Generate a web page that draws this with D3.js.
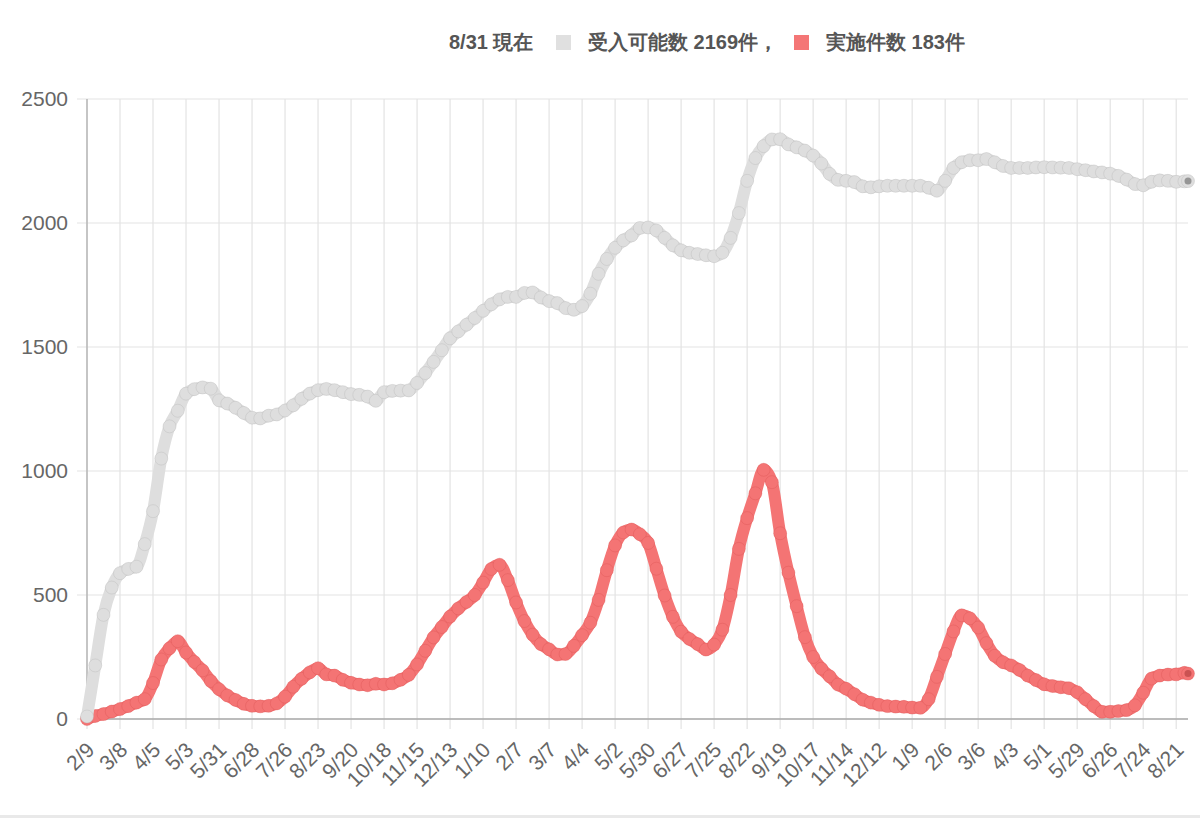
<!DOCTYPE html>
<html>
    <head>
        <meta charset="utf-8">
        <script src="https://d3js.org/d3.v7.min.js"></script>
        <style>
            body { margin: 0; background: #fff; }
            text { font-family: "Liberation Sans", Arial, sans-serif; }
        </style>
    </head>
    <body>
        <svg width="1200" height="818" id="chart"></svg>
        <script>
            // tick labels, every 4 weeks from 2/9/2020
            const tickLabels = ["2/9","3/8","4/5","5/3","5/31","6/28","7/26","8/23","9/20","10/18","11/15","12/13",
                "1/10","2/7","3/7","4/4","5/2","5/30","6/27","7/25","8/22","9/19","10/17","11/14","12/12",
                "1/9","2/6","3/6","4/3","5/1","5/29","6/26","7/24","8/21"];
            const yTicks = [0, 500, 1000, 1500, 2000, 2500];

            // weekly readings (day 0 = 2020/2/9), last one is 8/31
            const capacity = [10, 216, 420, 530, 588, 605, 614, 705, 838, 1050,
                1180, 1243, 1312, 1330, 1337, 1332, 1285, 1272, 1255, 1234,
                1215, 1212, 1223, 1228, 1244, 1265, 1291, 1312, 1326, 1331,
                1326, 1318, 1310, 1307, 1300, 1283, 1318, 1323, 1324, 1325,
                1355, 1395, 1440, 1487, 1535, 1563, 1590, 1617, 1646, 1672,
                1692, 1702, 1702, 1718, 1720, 1700, 1685, 1677, 1657, 1650,
                1665, 1715, 1795, 1855, 1900, 1930, 1950, 1980, 1982, 1970,
                1940, 1910, 1890, 1880, 1875, 1870, 1866, 1880, 1940, 2040,
                2170, 2262, 2310, 2337, 2338, 2317, 2305, 2292, 2272, 2240,
                2198, 2174, 2170, 2165, 2148, 2144, 2148, 2150, 2150, 2150,
                2150, 2150, 2142, 2130, 2170, 2222, 2245, 2253, 2253, 2258,
                2245, 2230, 2222, 2222, 2222, 2224, 2225, 2224, 2223, 2222,
                2217, 2213, 2208, 2204, 2199, 2190, 2175, 2157, 2152, 2166,
                2172, 2170, 2166, 2168,
                2169];
            const performed = [0, 12, 20, 30, 40, 52, 66, 80, 145, 240,
                285, 314, 268, 230, 196, 153, 120, 95, 77, 61,
                53, 51, 53, 63, 90, 130, 162, 188, 205, 180,
                175, 158, 146, 139, 136, 142, 139, 144, 158, 178,
                220, 275, 329, 371, 413, 446, 472, 500, 550, 605,
                622, 560, 470, 395, 340, 302, 281, 260, 262, 295,
                338, 388, 480, 600, 700, 752, 764, 745, 710, 606,
                498, 412, 352, 323, 302, 280, 300, 360, 500, 686,
                810, 910, 1005, 955, 749, 590, 455, 330, 250, 203,
                172, 139, 122, 100, 78, 66, 57, 52, 50, 49,
                46, 45, 80, 170, 262, 353, 418, 406, 369, 306,
                255, 229, 216, 198, 175, 157, 140, 133, 128, 124,
                108, 80, 52, 29, 29, 32, 36, 55, 106, 163,
                175, 179, 180, 186,
                183];

            const legendTitle = "8/31 現在";
            const seriesNames = ["受入可能数 2169件，", "実施件数 183件"];

            let svg = d3.select("#chart");
            const plotLeft = 87, plotRight = 1188, plotTop = 99, plotBottom = 719;

            let days = d3.range(0, 932, 7).concat([934]);
            let tickDays = d3.range(0, tickLabels.length * 28, 28);

            let xScale = d3.scaleLinear().domain([0, 934]).range([plotLeft, plotRight]);
            let yScale = d3.scaleLinear().domain([0, 2500]).range([plotBottom, plotTop]);

            // page separator at the bottom
            svg.append("rect").attr("x", 0).attr("y", 815).attr("width", 1200).attr("height", 3).attr("fill", "#e9e9e9");

            // grid
            let grid = svg.append("g").attr("id", "grid");
            grid.selectAll("line.h").data(yTicks)
                .join("line")
                .attr("class", "h")
                .attr("x1", plotLeft - 10).attr("x2", plotRight)
                .attr("y1", d => yScale(d)).attr("y2", d => yScale(d))
                .attr("stroke", "#e3e3e3").attr("stroke-width", 1.2);
            grid.selectAll("line.v").data(tickDays)
                .join("line")
                .attr("class", "v")
                .attr("x1", d => xScale(d)).attr("x2", d => xScale(d))
                .attr("y1", plotTop).attr("y2", plotBottom + 10)
                .attr("stroke", "#e3e3e3").attr("stroke-width", 1.2);

            // axes
            let yAxis = svg.append("g")
                .attr("transform", `translate(${plotLeft},0)`)
                .call(d3.axisLeft(yScale).tickValues(yTicks).tickFormat(d3.format("d")).tickSize(10).tickPadding(9));
            yAxis.select(".domain").remove();
            yAxis.selectAll(".tick line").remove();
            yAxis.selectAll("text").attr("fill", "#666").style("font-size", "21px");

            let xAxis = svg.append("g")
                .attr("transform", `translate(0,${plotBottom})`)
                .call(d3.axisBottom(xScale).tickValues(tickDays).tickFormat((d, i) => tickLabels[i]).tickSize(10));
            xAxis.select(".domain").remove();
            xAxis.selectAll(".tick line").remove();
            xAxis.selectAll("text")
                .attr("fill", "#666").style("font-size", "21px")
                .attr("text-anchor", "end")
                .attr("x", 0).attr("y", 0).attr("dy", "0.35em")
                .attr("transform", "translate(3,27) rotate(-45)");

            svg.append("line").attr("x1", plotLeft).attr("x2", plotLeft).attr("y1", plotTop).attr("y2", plotBottom)
                .attr("stroke", "#aaa").attr("stroke-width", 1.2);
            svg.append("line").attr("x1", plotLeft).attr("x2", plotRight).attr("y1", plotBottom).attr("y2", plotBottom)
                .attr("stroke", "#aaa").attr("stroke-width", 1.5);

            // series
            const drawSeries = function(values, fill, edge, dark){
                let pts = values.map((v, i) => ({day: days[i], v: v}));
                let line = d3.line().x(d => xScale(d.day)).y(d => yScale(d.v)).curve(d3.curveMonotoneX);
                let g = svg.append("g");
                g.append("path").datum(pts)
                    .attr("d", line)
                    .attr("fill", "none")
                    .attr("stroke", fill)
                    .attr("stroke-width", 12)
                    .attr("stroke-linejoin", "round")
                    .attr("stroke-linecap", "round");
                g.selectAll("circle").data(pts)
                    .join("circle")
                    .attr("cx", d => xScale(d.day))
                    .attr("cy", d => yScale(d.v))
                    .attr("r", 6.5)
                    .attr("fill", fill)
                    .attr("stroke", edge)
                    .attr("stroke-opacity", 0.35)
                    .attr("stroke-width", 1);
                let last = pts[pts.length - 1];
                g.append("circle")
                    .attr("cx", xScale(last.day)).attr("cy", yScale(last.v))
                    .attr("r", 3.5).attr("fill", dark).attr("opacity", 0.7);
            };
            drawSeries(performed, "#f47474", "#d95252", "#b84444");
            drawSeries(capacity, "#dedede", "#b5b5b5", "#777");

            // legend
            let legend = svg.append("g").attr("id", "legend")
                .style("font-family", "Roboto, 'Noto Sans CJK JP', sans-serif")
                .style("font-weight", "bold").style("font-size", "20px");
            legend.append("text").attr("x", 449).attr("y", 49).attr("fill", "#555").text(legendTitle);
            legend.append("rect").attr("x", 556).attr("y", 35).attr("width", 15).attr("height", 15).attr("fill", "#e0e0e0");
            legend.append("text").attr("x", 588).attr("y", 49).attr("fill", "#555").text(seriesNames[0]);
            legend.append("rect").attr("x", 794).attr("y", 35).attr("width", 15).attr("height", 15).attr("fill", "#f47676");
            legend.append("text").attr("x", 826).attr("y", 49).attr("fill", "#555").text(seriesNames[1]);
        </script>
    </body>
</html>
